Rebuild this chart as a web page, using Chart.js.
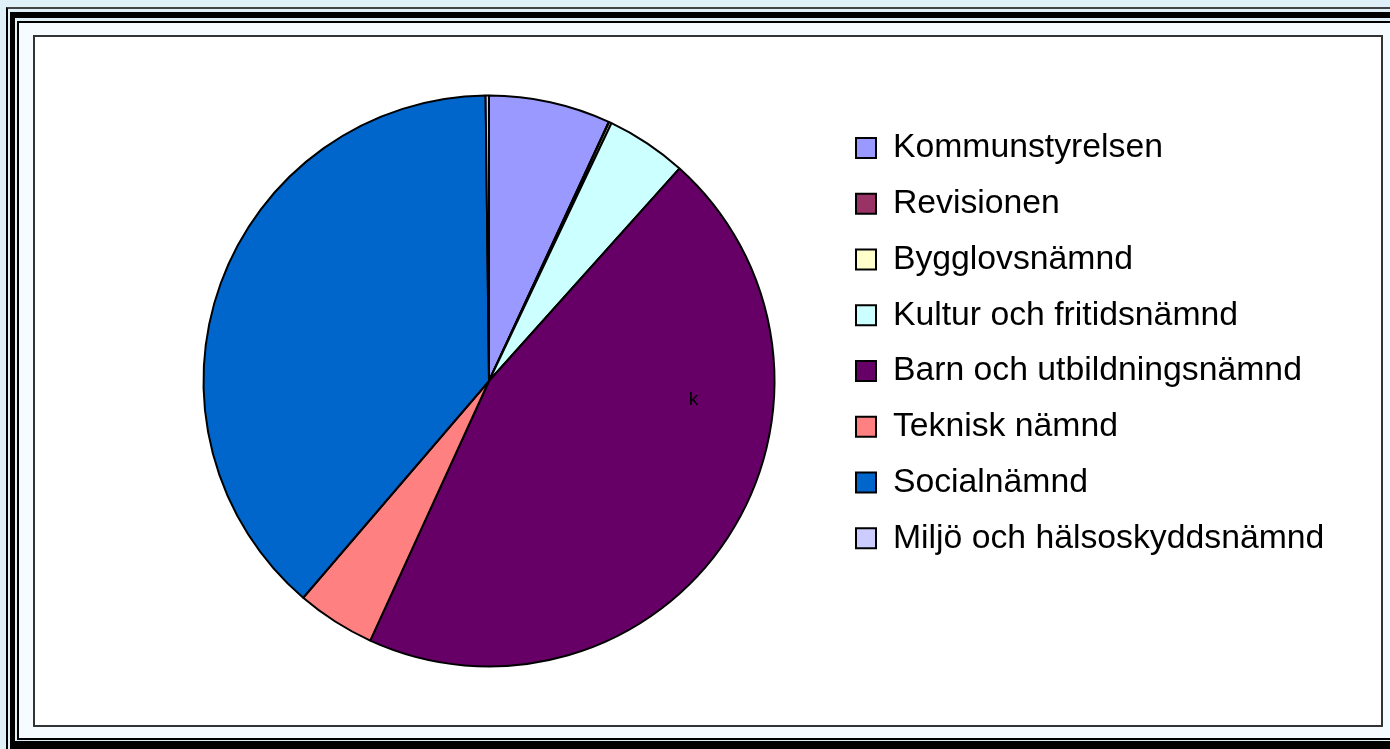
<!DOCTYPE html>
<html>
<head>
<meta charset="utf-8">
<script src="https://cdn.jsdelivr.net/npm/chart.js@4.4.1/dist/chart.umd.min.js"></script>
<style>
  html, body { margin:0; padding:0; overflow:hidden; background:#dff0f9; }
  #wrap { position:absolute; left:0; top:0; width:1390px; height:749px; overflow:hidden; background:#dff0f9; }
  .f { position:absolute; box-sizing:border-box; }
  #f1 { left:6px; top:7px; width:1500px; height:760px; border:2px solid #000; border-top-color:#444; }
  #f2 { left:10px; top:12px; width:1490px; height:737px; border:solid #000; border-width:6px 5px 8px 5px; }
  #f3 { left:17px; top:21px; width:1480px; height:719px; border:2px solid #000; background:#f5fbfe; }
  #plot { left:33px; top:35px; width:1350px; height:692px; border:2px solid #333; background:#fff; }
  #c { position:absolute; left:35px; top:37px; }
</style>
</head>
<body>
<div id="wrap">
<div class="f" id="f1"></div>
<div class="f" id="f2"></div>
<div class="f" id="f3"></div>
<div class="f" id="plot"></div>
<canvas id="c" width="1339" height="688"></canvas>
</div>
<script>
const categories = [
  'Kommunstyrelsen',
  'Revisionen',
  'Bygglovsnämnd',
  'Kultur och fritidsnämnd',
  'Barn och utbildningsnämnd',
  'Teknisk nämnd',
  'Socialnämnd',
  'Miljö och hälsoskyddsnämnd'
];
const shares = [6.89, 0.03, 0.14, 4.57, 45.2, 4.45, 38.53, 0.19];
const sliceColors = ['#9999FF', '#993366', '#FFFFCC', '#CCFFFF', '#660066', '#FF8080', '#0066CC', '#CCCCFF'];
const strayLabel = 'k';

const strayLabelPlugin = {
  id: 'strayLabel',
  afterDatasetsDraw(chart) {
    const arc = chart.getDatasetMeta(0).data[0];
    if (!arc) return;
    const r = arc.outerRadius;
    const ctx = chart.ctx;
    ctx.save();
    ctx.fillStyle = '#000';
    ctx.font = '19px "Liberation Sans", Arial, sans-serif';
    ctx.textAlign = 'center';
    ctx.textBaseline = 'alphabetic';
    ctx.fillText(strayLabel, arc.x + 0.716 * r, arc.y + 0.084 * r);
    ctx.restore();
  }
};

new Chart(document.getElementById('c'), {
  type: 'pie',
  data: {
    labels: categories,
    datasets: [{
      data: shares,
      backgroundColor: sliceColors,
      borderColor: '#000',
      borderWidth: 2,
      radius: 285.5,
      hoverOffset: 0,
      clip: false
    }]
  },
  options: {
    responsive: false,
    animation: false,
    layout: { padding: { left: 109, right: 45, top: 69, bottom: 69 } },
    plugins: {
      legend: {
        position: 'right',
        align: 'start',
        maxWidth: 495,
        title: { display: true, text: '', font: { size: 1 }, padding: { top: 2, bottom: 0 } },
        labels: {
          boxWidth: 20,
          boxHeight: 20,
          padding: 22,
          color: '#000',
          font: { family: '"Liberation Sans", Arial, sans-serif', size: 33.75 }
        }
      },
      tooltip: { enabled: false }
    }
  },
  plugins: [strayLabelPlugin]
});
</script>
</body>
</html>
